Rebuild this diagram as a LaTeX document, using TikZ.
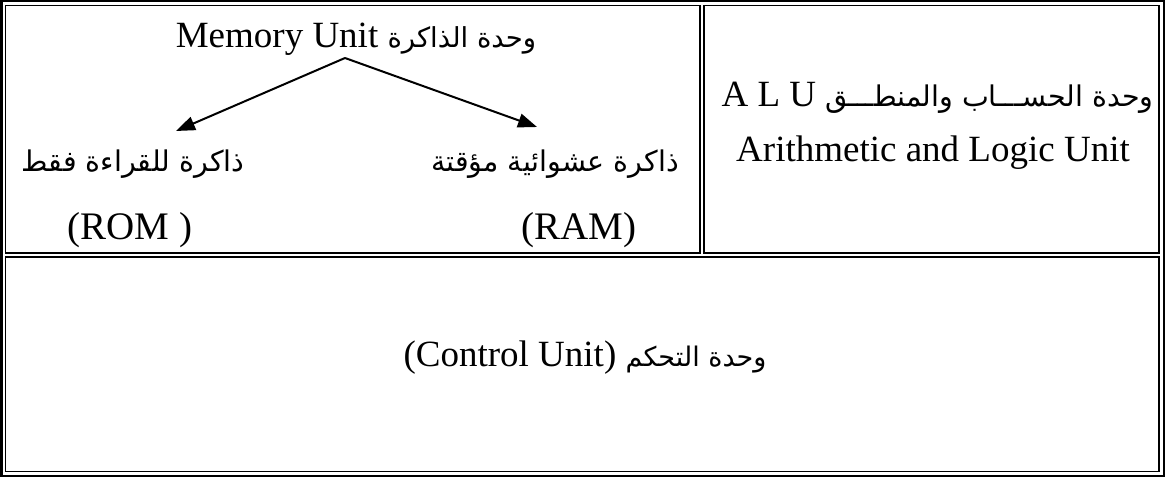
\documentclass[tikz,border=0pt]{standalone}
\usepackage{fontspec}
\setmainfont{Liberation Serif}
\newfontfamily\arabicfont[Script=Arabic]{DejaVu Sans}
\TeXXeTstate=1
\usetikzlibrary{arrows.meta}
\newcommand\entext{\fontsize{37bp}{42bp}\selectfont}
\newcommand\bigtext{\fontsize{39bp}{44bp}\selectfont}
\newcommand\artext[1]{\arabicfont\fontsize{#1}{1.2\dimexpr#1\relax}\selectfont}

\begin{document}
\begin{tikzpicture}[x=1bp,y=-1bp,
  frame/.style={draw=black, line width=2bp},
  cell/.style={draw=black, line width=1.2bp},
  lbl/.style={inner sep=0pt, anchor=base, font=\entext},
  arr/.style={line width=2bp, -{Triangle[length=19bp,width=14bp]}}]
\useasboundingbox (0,0) rectangle (1165,477);

% outer frame and the three cells
\draw[frame] (1.5,1.5) rectangle (1163.5,475.5);
\draw[cell] (5.5,5.5) rectangle (700,253);
\draw[cell] (704,5.5) rectangle (1159,253);
\draw[cell] (5.5,257) rectangle (1159,471.5);

% memory unit
\node[lbl] (mem) at (356,48) {Memory Unit {\artext{27.5bp}\beginR وحدة الذاكرة\endR}};
\node[lbl] (romar) at (133,172) {\artext{28.5bp}\beginR ذاكرة للقراءة فقط\endR};
\node[lbl] (ramar) at (555,172) {\artext{28.5bp}\beginR ذاكرة عشوائية مؤقتة\endR};
\node[lbl, font=\bigtext] (rom) at (130,240) {(ROM )};
\node[lbl, font=\bigtext] (ram) at (579,240) {(RAM)};

\coordinate (fork) at (345,58);
\coordinate (romtip) at (176,131);
\coordinate (ramtip) at (537,127);
\draw[arr] (fork) -- (romtip);
\draw[arr] (fork) -- (ramtip);

% arithmetic and logic unit
\node[lbl] (alu) at (937.5,107) {A L U {\artext{28.5bp}\beginR وحدة الحســـاب والمنطـــق\endR}};
\node[lbl] (alufull) at (933,162) {Arithmetic and Logic Unit};

% control unit
\node[lbl] (ctrl) at (585,367) {(Control Unit) {\artext{27bp}\beginR وحدة التحكم\endR}};
\end{tikzpicture}
\end{document}
